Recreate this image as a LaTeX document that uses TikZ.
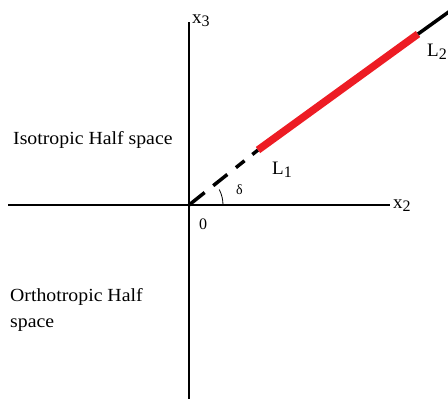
\documentclass[tikz,border=0pt]{standalone}
\usepackage{fontspec}
\setmainfont{Liberation Serif}
\newfontfamily\lab[FakeStretch=1.07]{Liberation Serif}
\begin{document}
\begin{tikzpicture}[x=1pt,y=-1pt,
  axis/.style={line width=1.1pt,black},
  dashseg/.style={line width=3.5pt,black},
  redseg/.style={line width=7.5pt,color=lineRed},
  txt/.style={inner sep=0pt,anchor=west,font=\lab\fontsize{18.5}{22}\selectfont},
  sym/.style={inner sep=0pt,anchor=west,font=\fontsize{19}{22}\selectfont}]
\definecolor{lineRed}{RGB}{237,28,36}
\useasboundingbox (0,0) rectangle (448,399);
% axes
\coordinate (vtop) at (189,22);
\coordinate (vbot) at (189,399);
\coordinate (hl) at (8,205);
\coordinate (hr) at (390,205);
\coordinate (O) at (189,205);
\draw[axis] (vtop) -- (vbot);
\draw[axis] (hl) -- (hr);
% inclined line
\coordinate (R1) at (258,150);
\coordinate (R2) at (418,34);
\coordinate (E) at (450,11);
\draw[dashseg,dash pattern=on 20pt off 11pt on 18pt off 11pt on 11pt off 10pt on 30pt] (O) -- (R1);
\draw[redseg] (R1) -- (R2);
\draw[dashseg] (R2) -- (E);
% angle
\coordinate (A0) at (223,205);
\draw[line width=0.8pt] (A0) arc[start angle=0,end angle=27,radius=34pt];
% labels
\node[sym] (x3) at (192,21) {x\raisebox{-3pt}{\fontsize{16}{16}\selectfont 3}};
\node[sym] (x2) at (393,206) {x\raisebox{-3pt}{\fontsize{16}{16}\selectfont 2}};
\node[sym] (L1) at (272,170) {L\raisebox{-3pt}{\fontsize{16}{16}\selectfont 1}};
\node[sym] (L2) at (427,52) {L\raisebox{-3pt}{\fontsize{16}{16}\selectfont 2}};
\node[inner sep=0pt,anchor=west,font=\fontsize{14}{14}\selectfont] (d) at (236,190) {δ};
\node[inner sep=0pt,anchor=west,font=\fontsize{16}{16}\selectfont] (zero) at (199,224) {0};
\node[txt] (iso) at (13,140) {Isotropic Half space};
\node[txt] (ort1) at (10,297) {Orthotropic Half};
\node[txt] (ort2) at (10,325) {space};
\end{tikzpicture}
\end{document}
